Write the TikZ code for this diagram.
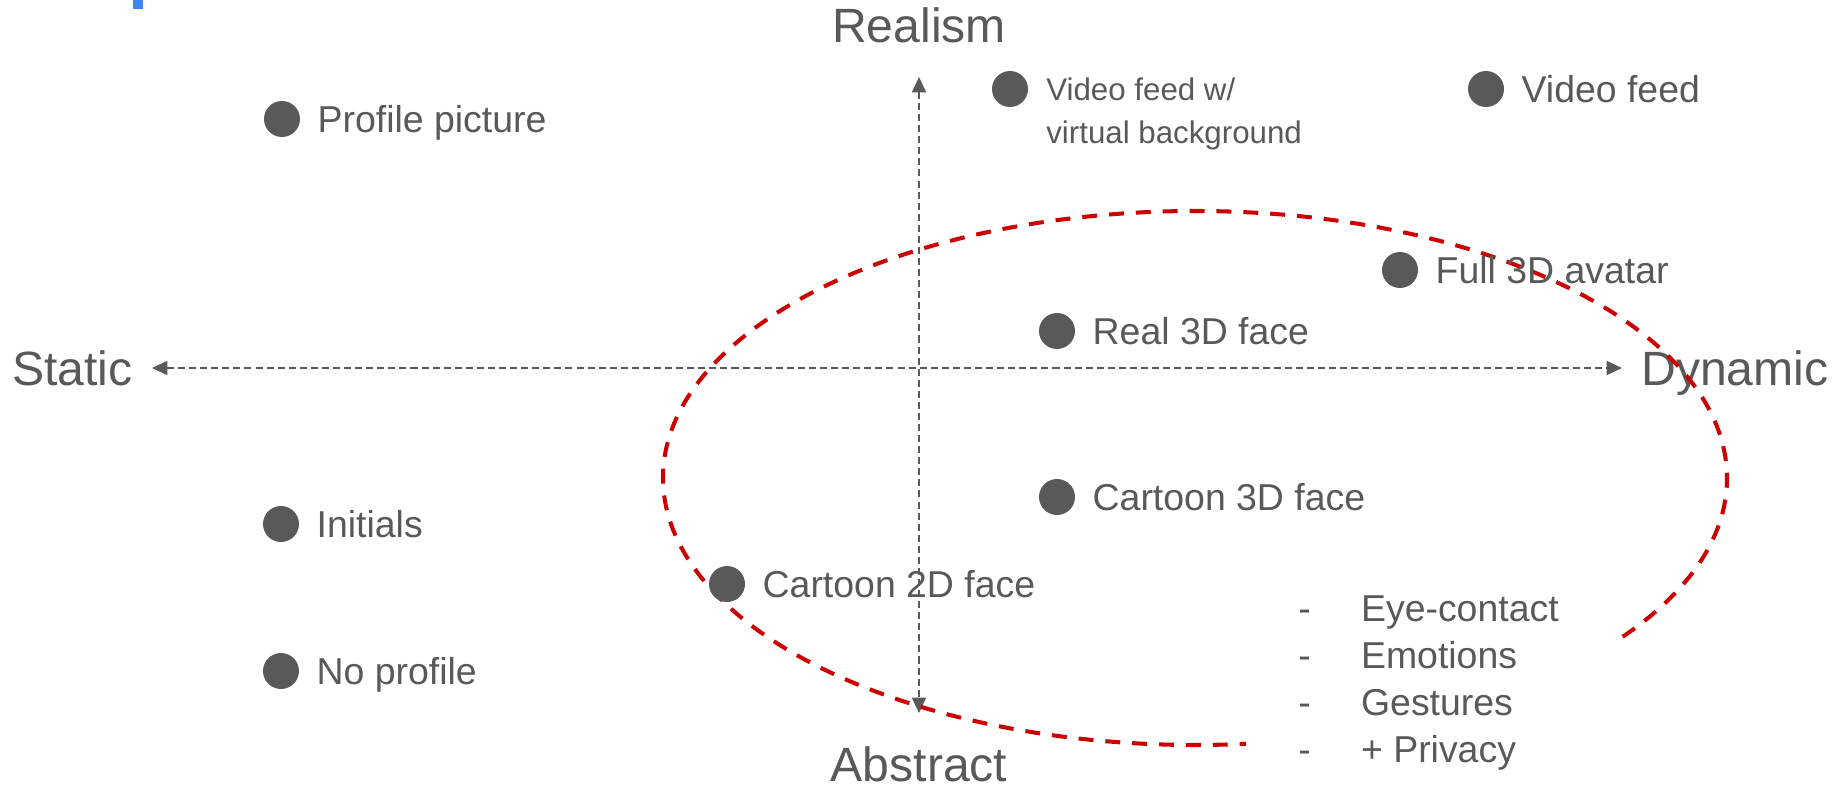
\documentclass[tikz,border=0pt]{standalone}
\usepackage{fontspec}
\setmainfont{Liberation Sans}
\usetikzlibrary{arrows.meta,positioning}
\definecolor{ink}{HTML}{595959}
\definecolor{ring}{HTML}{CC0000}
\definecolor{gblue}{HTML}{4285F4}
\begin{document}
\begin{tikzpicture}[x=0.02cm,y=0.02cm,
    dot/.style={circle,fill=ink,inner sep=0,minimum size=0.72cm},
    lbl/.style={text=ink,inner sep=0,font=\fontsize{21.3}{25.6}\selectfont,
      text height=15.25pt,text depth=0pt},
    note/.style={text=ink,inner sep=0,align=left,font=\fontsize{17.8}{24.5}\selectfont},
    pole/.style={text=ink,inner sep=0,font=\fontsize{27.4}{32.9}\selectfont,
      text height=19.6pt,text depth=0pt},
    axis/.style={draw=ink,line width=1.1pt,dash pattern=on 4pt off 2.3pt,
      {Triangle[length=8.8pt,width=8pt]}-{Triangle[length=8.8pt,width=8pt]}},
    ring/.style={draw=ring,line width=2.3pt,dash pattern=on 8.5pt off 6.8pt}]
      \useasboundingbox (0,0) rectangle (1837,-788);
      \fill[gblue] (133,0) rectangle (143,-9);
      \coordinate (top) at (919,-77);
      \coordinate (bot) at (919,-713);
      \coordinate (lft) at (152,-368);
      \coordinate (rgt) at (1622,-368);
      \node[pole, above=0.68cm of top] (realism) {Realism};
      \node[pole, below=0.68cm of bot] (abstract) {Abstract};
      \node[pole, left=0.38cm of lft] (static) {Static};
      \node[pole, right=0.38cm of rgt] (dynamic) {Dynamic};
      \draw[axis] (lft) -- (rgt);
      \draw[axis] (top) -- (bot);
      \draw[ring] (1195,-478) ++(-36.5:532 and 267)
        arc[start angle=-36.5, end angle=275.5, x radius=532, y radius=267];
      \node[dot] (prof) at (282,-119) {};
      \node[dot] (init) at (281,-524) {};
      \node[dot] (none) at (281,-671) {};
      \node[dot] (vbg) at (1010,-89) {};
      \node[dot] (feed) at (1486,-89) {};
      \node[dot] (avatar) at (1400,-270) {};
      \node[dot] (real) at (1057,-331) {};
      \node[dot] (cart3) at (1057,-497) {};
      \node[dot] (cart2) at (727,-584) {};
      \node[lbl, right=0.34cm of prof] (profl) {Profile picture};
      \node[lbl, right=0.34cm of init] (initl) {Initials};
      \node[lbl, right=0.34cm of none] (nonel) {No profile};
      \node[lbl, right=0.34cm of feed] (feedl) {Video feed};
      \node[lbl, right=0.34cm of avatar] (avatarl) {Full 3D avatar};
      \node[lbl, right=0.34cm of real] (reall) {Real 3D face};
      \node[lbl, right=0.34cm of cart3] (cart3l) {Cartoon 3D face};
      \node[lbl, right=0.34cm of cart2] (cart2l) {Cartoon 2D face};
      \node[note, anchor=north west] (vbgl) at ([xshift=0.72cm,yshift=0.23cm]vbg.center)
        {Video feed w/\\virtual background};
      \node[text=ink, inner sep=0, align=left, anchor=north west,
        font=\fontsize{21.3}{26.8}\selectfont] (traits) at (1298,-595)
        {\makebox[35.7pt][l]{-}Eye-contact\\
         \makebox[35.7pt][l]{-}Emotions\\
         \makebox[35.7pt][l]{-}Gestures\\
         \makebox[35.7pt][l]{-}+ Privacy};
    \end{tikzpicture}
\end{document}
